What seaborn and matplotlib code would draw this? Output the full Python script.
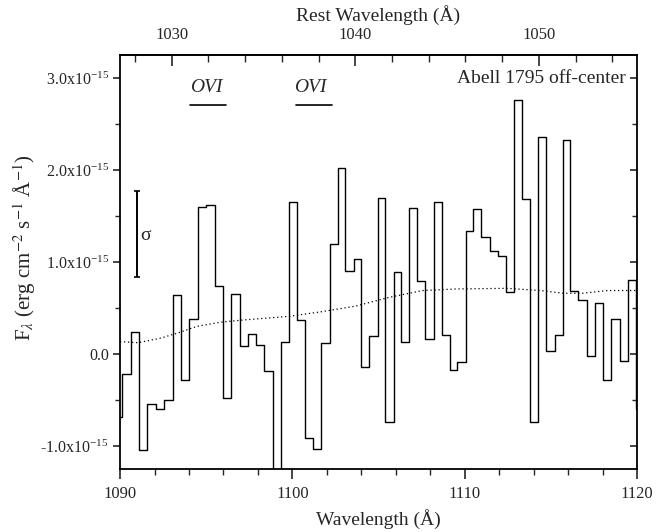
import numpy as np
import pandas as pd
import matplotlib
matplotlib.use('Agg')
import matplotlib.pyplot as plt
import seaborn as sns
from matplotlib.ticker import MultipleLocator, FixedLocator, FuncFormatter

# ---------------- data (flux in units of 1e-15 erg cm^-2 s^-1 A^-1) -------------
bin_edges = [1089.62, 1090.10, 1090.62, 1091.08, 1091.55, 1092.07, 1092.55, 1093.06,
             1093.56, 1094.02, 1094.51, 1095.01, 1095.49, 1096.00, 1096.46, 1096.94,
             1097.43, 1097.89, 1098.38, 1098.86, 1099.32, 1099.80, 1100.25, 1100.74,
             1101.22, 1101.68, 1102.17, 1102.63, 1103.08, 1103.56, 1104.00, 1104.47,
             1104.95, 1105.40, 1105.88, 1106.33, 1106.79, 1107.23, 1107.72, 1108.20,
             1108.67, 1109.13, 1109.58, 1110.06, 1110.50, 1110.97, 1111.45, 1111.92,
             1112.38, 1112.84, 1113.33, 1113.79, 1114.27, 1114.74, 1115.22, 1115.69,
             1116.13, 1116.59, 1117.08, 1117.56, 1118.05, 1118.51, 1119.00, 1119.46,
             1119.94, 1120.42]
flux = [-0.68, -0.22, 0.24, -1.04, -0.54, -0.60, -0.50, 0.645, -0.28, 0.38, 1.60,
        1.62, 0.74, -0.475, 0.655, 0.087, 0.214, 0.094, -0.19, -1.60, 0.13,
        1.655, 0.366, -0.917, -1.03, 0.116, 1.20, 2.025, 0.90, 1.036, -0.14,
        0.20, 1.70, -0.735, 0.888, 0.127, 1.59, 0.797, 0.16, 1.655, 0.21,
        -0.17, -0.083, 1.34, 1.58, 1.27, 1.116, 1.065, 0.67, 2.76, 1.69,
        -0.74, 2.36, 0.036, 0.21, 2.33, 0.68, 0.59, -0.018, 0.55, -0.28,
        0.38, -0.076, 0.80, -0.60]

model_wl = [1090.0, 1090.1, 1091.05, 1092.3, 1093.3, 1094.45, 1095.8, 1097.16, 1098.52,
            1099.83, 1101.7, 1103.65, 1105.6, 1107.55, 1109.5, 1112.45, 1114.4,
            1115.75, 1116.8, 1118.3, 1120.0]
model_flux = [0.135, 0.134, 0.123, 0.17, 0.225, 0.30, 0.345, 0.37, 0.39, 0.41, 0.46,
              0.52, 0.615, 0.69, 0.707, 0.714, 0.69, 0.66, 0.66, 0.69, 0.69]

sigma_x = 1090.97
sigma_lo, sigma_hi = 0.84, 1.775

line_labels = ["OVI", "OVI"]
line_text_x = [1095.0, 1101.03]
line_x0 = [1094.06, 1100.20]
line_x1 = [1096.13, 1102.28]
line_y = 2.71

title_text = "Abell 1795 off-center"
y_ticks = [-1.0, 0.0, 1.0, 2.0, 3.0]
rest_ticks = [1030, 1040, 1050]

# ---------------- style ----------------
sns.set_theme(style="ticks")
plt.rcParams['font.family'] = ['Liberation Serif', 'DejaVu Serif']
plt.rcParams['mathtext.fontset'] = 'stix'

fig = plt.figure(figsize=(6.65, 5.32), dpi=100)
ax = fig.add_axes([0.1805, 0.1184, 0.7775, 0.7782])

df = pd.DataFrame({'wl': bin_edges, 'flux': flux + [flux[-1]]})
sns.lineplot(data=df, x='wl', y='flux', ax=ax, color='black', lw=1.0,
             drawstyle='steps-post', sort=False, estimator=None)

dm = pd.DataFrame({'wl': model_wl, 'flux': model_flux})
sns.lineplot(data=dm, x='wl', y='flux', ax=ax, color='black', lw=0.9,
             linestyle=(0, (1, 2.2)), sort=False, estimator=None)

ax.errorbar([sigma_x], [(sigma_lo + sigma_hi) / 2], yerr=[(sigma_hi - sigma_lo) / 2],
            color='black', lw=1.4, capsize=2, capthick=1.2)
ax.text(sigma_x + 0.52, 1.29, "σ", fontsize=14, ha='center', va='center')

for lab, tx, a, b in zip(line_labels, line_text_x, line_x0, line_x1):
    ax.plot([a, b], [line_y, line_y], color='black', lw=1.2)
    ax.text(tx, 2.90, lab, fontsize=14, style='italic', ha='center', va='center')

ax.text(1119.35, 3.0, title_text, fontsize=14, ha='right', va='center')

ax.set_xlim(1090, 1120)
ax.set_ylim(-1.25, 3.25)

ax.xaxis.set_major_locator(MultipleLocator(10))
ax.xaxis.set_minor_locator(MultipleLocator(2))
ax.yaxis.set_major_locator(FixedLocator(y_ticks))
ax.yaxis.set_minor_locator(MultipleLocator(0.5))

def yfmt(v, pos):
    if abs(v) < 1e-9:
        return "0.0"
    return "%.1fx10$^{\\mathregular{-15}}$" % v
ax.yaxis.set_major_formatter(FuncFormatter(yfmt))

ax.tick_params(axis='x', which='major', direction='out', length=7, width=1.2,
               labelsize=12, pad=5, top=False)
ax.tick_params(axis='x', which='minor', direction='out', length=4.5, width=1.0, top=False)
ax.tick_params(axis='y', which='major', direction='out', length=5, width=1.2,
               labelsize=11.5, pad=3)
ax.tick_params(axis='y', which='minor', direction='out', length=3.5, width=1.0)

# right axis ticks inward
ax.tick_params(axis='y', which='both', right=True, labelright=False)
for t in ax.yaxis.get_major_ticks() + ax.yaxis.get_minor_ticks():
    t.tick2line.set_marker(matplotlib.lines.TICKLEFT)

for s in ax.spines.values():
    s.set_linewidth(1.3)
    s.set_color('black')

ax.set_xlabel("Wavelength (Å)", fontsize=14, labelpad=5)
ax.set_ylabel(r"F$_{\lambda}$ (erg cm$^{-2}$ s$^{-1}$ Å$^{-1}$)", fontsize=15)
ax.yaxis.set_label_coords(-0.158, 0.535)

# top axis: rest wavelength
def obs2rest(x):
    return 1030 + (np.asarray(x) - 1093.0) / 1.065
def rest2obs(r):
    return 1093.0 + (np.asarray(r) - 1030) * 1.065
sec = ax.secondary_xaxis('top', functions=(obs2rest, rest2obs))
sec.xaxis.set_major_locator(FixedLocator(rest_ticks))
sec.xaxis.set_minor_locator(MultipleLocator(2))
sec.tick_params(axis='x', which='major', direction='in', length=8, width=1.2,
                labelsize=12, pad=9)
sec.tick_params(axis='x', which='minor', direction='in', length=5, width=1.0)
sec.spines['top'].set_linewidth(1.3)
sec.set_xlabel("Rest Wavelength (Å)", fontsize=14, labelpad=4)

fig.savefig("out.png", dpi=100)
